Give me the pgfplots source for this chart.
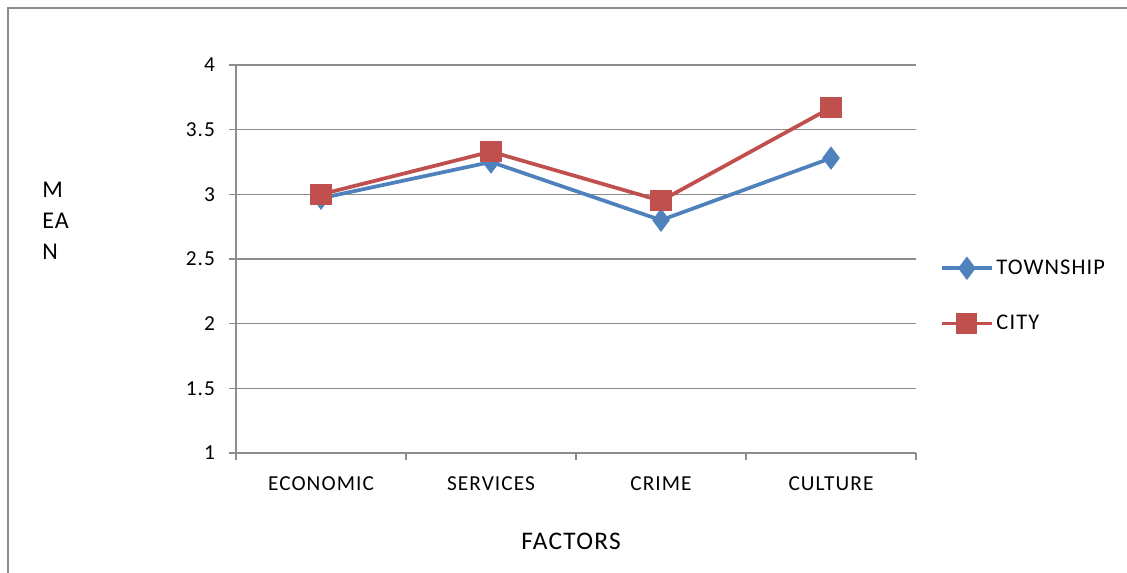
\documentclass[border=0pt]{standalone}
\usepackage{pgfplots}
\pgfplotsset{compat=1.18}
\usepackage{fontspec}
\setmainfont[LetterSpace=5]{Carlito}
\definecolor{tblue}{HTML}{4F81BD}
\definecolor{cred}{HTML}{C0504D}
\definecolor{gridc}{HTML}{8C8C8C}
\begin{document}
\begin{tikzpicture}[x=0.75pt,y=0.75pt]
\useasboundingbox (0,0) rectangle (1127,573);
\draw[gridc,line width=1.1pt] (8,0) -- (8,565) -- (1127,565);
\begin{axis}[
  at={(177pt,90pt)}, anchor=south west,
  scale only axis, width=510pt, height=291pt,
  xmin=-0.5, xmax=3.5, ymin=1, ymax=4,
  xtick={0,1,2,3},
  xticklabels={ECONOMIC,SERVICES,CRIME,CULTURE},
  minor xtick={-0.5,0.5,1.5,2.5,3.5},
  ytick={1,1.5,2,2.5,3,3.5,4},
  yticklabels={1,1.5,2,2.5,3,3.5,4},
  axis lines*=left,
  axis line style={gridc,line width=0.8pt},
  ymajorgrids, grid style={gridc,line width=0.8pt},
  tick align=outside,
  major tick length=5.25pt, minor tick length=5.25pt,
  x tick style={draw=none},
  minor x tick style={draw=gridc,line width=0.8pt},
  y tick style={gridc,line width=0.8pt},
  ticklabel style={font=\fontsize{16}{18}\selectfont, text=black},
  xticklabel style={yshift=-9pt},
  yticklabel style={xshift=-7pt},
  clip=false,
  legend style={at={(axis description cs:1.035,0.405)}, anchor=west, draw=none,
    fill=none, font=\fontsize{16.8}{19}\selectfont, row sep=25pt, inner sep=0pt,
    cells={anchor=west}},
  legend image code/.code={
    \draw[mark repeat=2,mark phase=2] plot coordinates {(0pt,0pt) (18.75pt,0pt) (37.5pt,0pt)};
  },
]
\addplot[tblue, line width=2.8pt, mark=diamond*, mark size=6.5pt, mark options={solid}]
  coordinates {(0,2.97) (1,3.25) (2,2.80) (3,3.28)};
\addlegendentry{TOWNSHIP}
\addplot[cred, line width=2.8pt, mark=square*, mark size=6.5pt, mark options={solid}]
  coordinates {(0,3.00) (1,3.33) (2,2.95) (3,3.67)};
\addlegendentry{CITY}
\end{axis}
\node[anchor=north west, align=left, font=\fontsize{18}{23.25}\selectfont, inner sep=0pt] at (42,573-182) {M\\EA\\N};
\node[font=\fontsize{19}{22}\selectfont] at (571,573-541) {FACTORS};
\end{tikzpicture}
\end{document}
